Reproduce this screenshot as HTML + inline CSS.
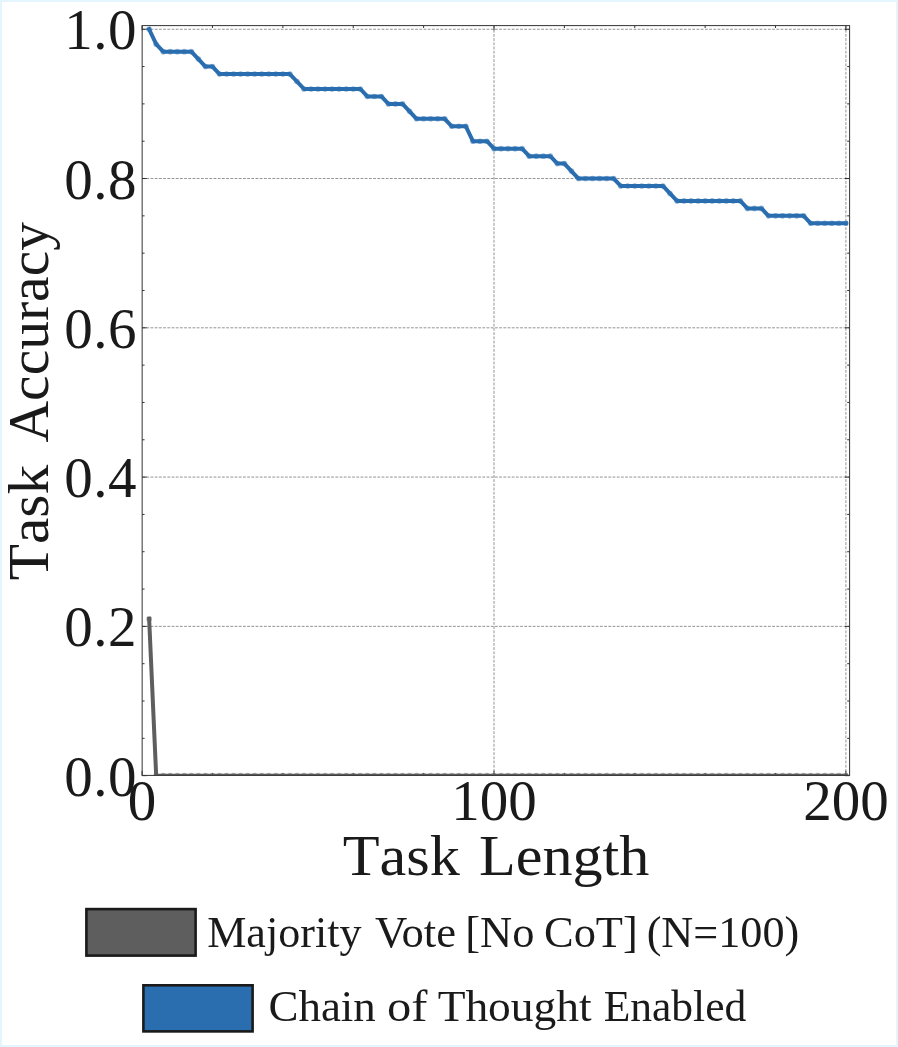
<!DOCTYPE html>
<html lang="en"><head><meta charset="utf-8"><title>Task Accuracy vs Task Length</title>
<style>
html,body{margin:0;padding:0;background:#fff;}
body{width:898px;height:1047px;overflow:hidden;position:relative;font-family:"Liberation Serif",serif;}
#frame{position:absolute;left:0;top:0;width:894px;height:1043px;border:2px solid #e5f5fd;background:#fff;}
svg{position:absolute;left:0;top:0;display:block;}
text{font-family:"Liberation Serif",serif;fill:#1a1a1a;}
.tick{font-size:57px;}
.axl{font-size:56px;font-kerning:none;}
.leg{font-size:44px;}
</style></head><body><div id="frame"></div>
<svg width="898" height="1047" viewBox="0 0 898 1047">
<defs><clipPath id="ax"><rect x="142.15" y="25.6" width="707.45" height="749.8"/></clipPath></defs>
<g stroke="#787878" stroke-width="0.8" stroke-dasharray="2.8 1.4" fill="none"><line x1="142.15" x2="849.6" y1="626.37" y2="626.37"/><line x1="142.15" x2="849.6" y1="477.09" y2="477.09"/><line x1="142.15" x2="849.6" y1="327.81" y2="327.81"/><line x1="142.15" x2="849.6" y1="178.53" y2="178.53"/><line x1="142.15" x2="849.6" y1="29.25" y2="29.25"/><line y1="25.6" y2="775.4" x1="494.00" x2="494.00"/><line y1="25.6" y2="775.4" x1="845.90" x2="845.90"/></g>
<g stroke="#1c1c1c" stroke-width="0.9" fill="none"><line x1="142.15" x2="146.75" y1="775.65" y2="775.65"/><line x1="849.6" x2="845.0" y1="775.65" y2="775.65"/><line x1="142.15" x2="144.55" y1="738.33" y2="738.33"/><line x1="849.6" x2="847.2" y1="738.33" y2="738.33"/><line x1="142.15" x2="144.55" y1="701.01" y2="701.01"/><line x1="849.6" x2="847.2" y1="701.01" y2="701.01"/><line x1="142.15" x2="144.55" y1="663.69" y2="663.69"/><line x1="849.6" x2="847.2" y1="663.69" y2="663.69"/><line x1="142.15" x2="146.75" y1="626.37" y2="626.37"/><line x1="849.6" x2="845.0" y1="626.37" y2="626.37"/><line x1="142.15" x2="144.55" y1="589.05" y2="589.05"/><line x1="849.6" x2="847.2" y1="589.05" y2="589.05"/><line x1="142.15" x2="144.55" y1="551.73" y2="551.73"/><line x1="849.6" x2="847.2" y1="551.73" y2="551.73"/><line x1="142.15" x2="144.55" y1="514.41" y2="514.41"/><line x1="849.6" x2="847.2" y1="514.41" y2="514.41"/><line x1="142.15" x2="146.75" y1="477.09" y2="477.09"/><line x1="849.6" x2="845.0" y1="477.09" y2="477.09"/><line x1="142.15" x2="144.55" y1="439.77" y2="439.77"/><line x1="849.6" x2="847.2" y1="439.77" y2="439.77"/><line x1="142.15" x2="144.55" y1="402.45" y2="402.45"/><line x1="849.6" x2="847.2" y1="402.45" y2="402.45"/><line x1="142.15" x2="144.55" y1="365.13" y2="365.13"/><line x1="849.6" x2="847.2" y1="365.13" y2="365.13"/><line x1="142.15" x2="146.75" y1="327.81" y2="327.81"/><line x1="849.6" x2="845.0" y1="327.81" y2="327.81"/><line x1="142.15" x2="144.55" y1="290.49" y2="290.49"/><line x1="849.6" x2="847.2" y1="290.49" y2="290.49"/><line x1="142.15" x2="144.55" y1="253.17" y2="253.17"/><line x1="849.6" x2="847.2" y1="253.17" y2="253.17"/><line x1="142.15" x2="144.55" y1="215.85" y2="215.85"/><line x1="849.6" x2="847.2" y1="215.85" y2="215.85"/><line x1="142.15" x2="146.75" y1="178.53" y2="178.53"/><line x1="849.6" x2="845.0" y1="178.53" y2="178.53"/><line x1="142.15" x2="144.55" y1="141.21" y2="141.21"/><line x1="849.6" x2="847.2" y1="141.21" y2="141.21"/><line x1="142.15" x2="144.55" y1="103.89" y2="103.89"/><line x1="849.6" x2="847.2" y1="103.89" y2="103.89"/><line x1="142.15" x2="144.55" y1="66.57" y2="66.57"/><line x1="849.6" x2="847.2" y1="66.57" y2="66.57"/><line x1="142.15" x2="146.75" y1="29.25" y2="29.25"/><line x1="849.6" x2="845.0" y1="29.25" y2="29.25"/><line x1="142.10" x2="142.10" y1="25.6" y2="30.200000000000003"/><line x1="142.10" x2="142.10" y1="775.4" y2="770.8"/><line x1="212.48" x2="212.48" y1="25.6" y2="28.0"/><line x1="212.48" x2="212.48" y1="775.4" y2="773.0"/><line x1="282.86" x2="282.86" y1="25.6" y2="28.0"/><line x1="282.86" x2="282.86" y1="775.4" y2="773.0"/><line x1="353.24" x2="353.24" y1="25.6" y2="28.0"/><line x1="353.24" x2="353.24" y1="775.4" y2="773.0"/><line x1="423.62" x2="423.62" y1="25.6" y2="28.0"/><line x1="423.62" x2="423.62" y1="775.4" y2="773.0"/><line x1="494.00" x2="494.00" y1="25.6" y2="30.200000000000003"/><line x1="494.00" x2="494.00" y1="775.4" y2="770.8"/><line x1="564.38" x2="564.38" y1="25.6" y2="28.0"/><line x1="564.38" x2="564.38" y1="775.4" y2="773.0"/><line x1="634.76" x2="634.76" y1="25.6" y2="28.0"/><line x1="634.76" x2="634.76" y1="775.4" y2="773.0"/><line x1="705.14" x2="705.14" y1="25.6" y2="28.0"/><line x1="705.14" x2="705.14" y1="775.4" y2="773.0"/><line x1="775.52" x2="775.52" y1="25.6" y2="28.0"/><line x1="775.52" x2="775.52" y1="775.4" y2="773.0"/><line x1="845.90" x2="845.90" y1="25.6" y2="30.200000000000003"/><line x1="845.90" x2="845.90" y1="775.4" y2="770.8"/></g>
<g clip-path="url(#ax)"><polyline points="149.14,618.91 156.18,775.65 163.21,775.65 170.25,775.65 177.29,775.65 184.33,775.65 191.37,775.65 198.40,775.65 205.44,775.65 212.48,775.65 219.52,775.65 226.56,775.65 233.59,775.65 240.63,775.65 247.67,775.65 254.71,775.65 261.75,775.65 268.78,775.65 275.82,775.65 282.86,775.65 289.90,775.65 296.94,775.65 303.97,775.65 311.01,775.65 318.05,775.65 325.09,775.65 332.13,775.65 339.16,775.65 346.20,775.65 353.24,775.65 360.28,775.65 367.32,775.65 374.35,775.65 381.39,775.65 388.43,775.65 395.47,775.65 402.51,775.65 409.54,775.65 416.58,775.65 423.62,775.65 430.66,775.65 437.70,775.65 444.73,775.65 451.77,775.65 458.81,775.65 465.85,775.65 472.89,775.65 479.92,775.65 486.96,775.65 494.00,775.65 501.04,775.65 508.08,775.65 515.11,775.65 522.15,775.65 529.19,775.65 536.23,775.65 543.27,775.65 550.30,775.65 557.34,775.65 564.38,775.65 571.42,775.65 578.46,775.65 585.49,775.65 592.53,775.65 599.57,775.65 606.61,775.65 613.65,775.65 620.68,775.65 627.72,775.65 634.76,775.65 641.80,775.65 648.84,775.65 655.87,775.65 662.91,775.65 669.95,775.65 676.99,775.65 684.03,775.65 691.06,775.65 698.10,775.65 705.14,775.65 712.18,775.65 719.22,775.65 726.25,775.65 733.29,775.65 740.33,775.65 747.37,775.65 754.41,775.65 761.44,775.65 768.48,775.65 775.52,775.65 782.56,775.65 789.60,775.65 796.63,775.65 803.67,775.65 810.71,775.65 817.75,775.65 824.79,775.65 831.82,775.65 838.86,775.65 845.90,775.65" fill="none" stroke="#5e5e5e" stroke-width="4.0" stroke-linejoin="round" stroke-linecap="square"/>
<g fill="#5e5e5e" fill-opacity="0.5"><circle cx="149.14" cy="618.91" r="2.8"/><circle cx="156.18" cy="775.65" r="2.8"/><circle cx="163.21" cy="775.65" r="2.8"/><circle cx="170.25" cy="775.65" r="2.8"/><circle cx="177.29" cy="775.65" r="2.8"/><circle cx="184.33" cy="775.65" r="2.8"/><circle cx="191.37" cy="775.65" r="2.8"/><circle cx="198.40" cy="775.65" r="2.8"/><circle cx="205.44" cy="775.65" r="2.8"/><circle cx="212.48" cy="775.65" r="2.8"/><circle cx="219.52" cy="775.65" r="2.8"/><circle cx="226.56" cy="775.65" r="2.8"/><circle cx="233.59" cy="775.65" r="2.8"/><circle cx="240.63" cy="775.65" r="2.8"/><circle cx="247.67" cy="775.65" r="2.8"/><circle cx="254.71" cy="775.65" r="2.8"/><circle cx="261.75" cy="775.65" r="2.8"/><circle cx="268.78" cy="775.65" r="2.8"/><circle cx="275.82" cy="775.65" r="2.8"/><circle cx="282.86" cy="775.65" r="2.8"/><circle cx="289.90" cy="775.65" r="2.8"/><circle cx="296.94" cy="775.65" r="2.8"/><circle cx="303.97" cy="775.65" r="2.8"/><circle cx="311.01" cy="775.65" r="2.8"/><circle cx="318.05" cy="775.65" r="2.8"/><circle cx="325.09" cy="775.65" r="2.8"/><circle cx="332.13" cy="775.65" r="2.8"/><circle cx="339.16" cy="775.65" r="2.8"/><circle cx="346.20" cy="775.65" r="2.8"/><circle cx="353.24" cy="775.65" r="2.8"/><circle cx="360.28" cy="775.65" r="2.8"/><circle cx="367.32" cy="775.65" r="2.8"/><circle cx="374.35" cy="775.65" r="2.8"/><circle cx="381.39" cy="775.65" r="2.8"/><circle cx="388.43" cy="775.65" r="2.8"/><circle cx="395.47" cy="775.65" r="2.8"/><circle cx="402.51" cy="775.65" r="2.8"/><circle cx="409.54" cy="775.65" r="2.8"/><circle cx="416.58" cy="775.65" r="2.8"/><circle cx="423.62" cy="775.65" r="2.8"/><circle cx="430.66" cy="775.65" r="2.8"/><circle cx="437.70" cy="775.65" r="2.8"/><circle cx="444.73" cy="775.65" r="2.8"/><circle cx="451.77" cy="775.65" r="2.8"/><circle cx="458.81" cy="775.65" r="2.8"/><circle cx="465.85" cy="775.65" r="2.8"/><circle cx="472.89" cy="775.65" r="2.8"/><circle cx="479.92" cy="775.65" r="2.8"/><circle cx="486.96" cy="775.65" r="2.8"/><circle cx="494.00" cy="775.65" r="2.8"/><circle cx="501.04" cy="775.65" r="2.8"/><circle cx="508.08" cy="775.65" r="2.8"/><circle cx="515.11" cy="775.65" r="2.8"/><circle cx="522.15" cy="775.65" r="2.8"/><circle cx="529.19" cy="775.65" r="2.8"/><circle cx="536.23" cy="775.65" r="2.8"/><circle cx="543.27" cy="775.65" r="2.8"/><circle cx="550.30" cy="775.65" r="2.8"/><circle cx="557.34" cy="775.65" r="2.8"/><circle cx="564.38" cy="775.65" r="2.8"/><circle cx="571.42" cy="775.65" r="2.8"/><circle cx="578.46" cy="775.65" r="2.8"/><circle cx="585.49" cy="775.65" r="2.8"/><circle cx="592.53" cy="775.65" r="2.8"/><circle cx="599.57" cy="775.65" r="2.8"/><circle cx="606.61" cy="775.65" r="2.8"/><circle cx="613.65" cy="775.65" r="2.8"/><circle cx="620.68" cy="775.65" r="2.8"/><circle cx="627.72" cy="775.65" r="2.8"/><circle cx="634.76" cy="775.65" r="2.8"/><circle cx="641.80" cy="775.65" r="2.8"/><circle cx="648.84" cy="775.65" r="2.8"/><circle cx="655.87" cy="775.65" r="2.8"/><circle cx="662.91" cy="775.65" r="2.8"/><circle cx="669.95" cy="775.65" r="2.8"/><circle cx="676.99" cy="775.65" r="2.8"/><circle cx="684.03" cy="775.65" r="2.8"/><circle cx="691.06" cy="775.65" r="2.8"/><circle cx="698.10" cy="775.65" r="2.8"/><circle cx="705.14" cy="775.65" r="2.8"/><circle cx="712.18" cy="775.65" r="2.8"/><circle cx="719.22" cy="775.65" r="2.8"/><circle cx="726.25" cy="775.65" r="2.8"/><circle cx="733.29" cy="775.65" r="2.8"/><circle cx="740.33" cy="775.65" r="2.8"/><circle cx="747.37" cy="775.65" r="2.8"/><circle cx="754.41" cy="775.65" r="2.8"/><circle cx="761.44" cy="775.65" r="2.8"/><circle cx="768.48" cy="775.65" r="2.8"/><circle cx="775.52" cy="775.65" r="2.8"/><circle cx="782.56" cy="775.65" r="2.8"/><circle cx="789.60" cy="775.65" r="2.8"/><circle cx="796.63" cy="775.65" r="2.8"/><circle cx="803.67" cy="775.65" r="2.8"/><circle cx="810.71" cy="775.65" r="2.8"/><circle cx="817.75" cy="775.65" r="2.8"/><circle cx="824.79" cy="775.65" r="2.8"/><circle cx="831.82" cy="775.65" r="2.8"/><circle cx="838.86" cy="775.65" r="2.8"/><circle cx="845.90" cy="775.65" r="2.8"/></g>
<polyline points="149.14,29.25 156.18,44.18 163.21,51.64 170.25,51.64 177.29,51.64 184.33,51.64 191.37,51.64 198.40,59.11 205.44,66.57 212.48,66.57 219.52,74.03 226.56,74.03 233.59,74.03 240.63,74.03 247.67,74.03 254.71,74.03 261.75,74.03 268.78,74.03 275.82,74.03 282.86,74.03 289.90,74.03 296.94,81.50 303.97,88.96 311.01,88.96 318.05,88.96 325.09,88.96 332.13,88.96 339.16,88.96 346.20,88.96 353.24,88.96 360.28,88.96 367.32,96.43 374.35,96.43 381.39,96.43 388.43,103.89 395.47,103.89 402.51,103.89 409.54,111.35 416.58,118.82 423.62,118.82 430.66,118.82 437.70,118.82 444.73,118.82 451.77,126.28 458.81,126.28 465.85,126.28 472.89,141.21 479.92,141.21 486.96,141.21 494.00,148.67 501.04,148.67 508.08,148.67 515.11,148.67 522.15,148.67 529.19,156.14 536.23,156.14 543.27,156.14 550.30,156.14 557.34,163.60 564.38,163.60 571.42,171.07 578.46,178.53 585.49,178.53 592.53,178.53 599.57,178.53 606.61,178.53 613.65,178.53 620.68,185.99 627.72,185.99 634.76,185.99 641.80,185.99 648.84,185.99 655.87,185.99 662.91,185.99 669.95,193.46 676.99,200.92 684.03,200.92 691.06,200.92 698.10,200.92 705.14,200.92 712.18,200.92 719.22,200.92 726.25,200.92 733.29,200.92 740.33,200.92 747.37,208.39 754.41,208.39 761.44,208.39 768.48,215.85 775.52,215.85 782.56,215.85 789.60,215.85 796.63,215.85 803.67,215.85 810.71,223.31 817.75,223.31 824.79,223.31 831.82,223.31 838.86,223.31 845.90,223.31" fill="none" stroke="#2a6eaf" stroke-width="4.0" stroke-linejoin="round" stroke-linecap="square"/>
<g fill="#2a6eaf" fill-opacity="0.5"><circle cx="149.14" cy="29.25" r="2.8"/><circle cx="156.18" cy="44.18" r="2.8"/><circle cx="163.21" cy="51.64" r="2.8"/><circle cx="170.25" cy="51.64" r="2.8"/><circle cx="177.29" cy="51.64" r="2.8"/><circle cx="184.33" cy="51.64" r="2.8"/><circle cx="191.37" cy="51.64" r="2.8"/><circle cx="198.40" cy="59.11" r="2.8"/><circle cx="205.44" cy="66.57" r="2.8"/><circle cx="212.48" cy="66.57" r="2.8"/><circle cx="219.52" cy="74.03" r="2.8"/><circle cx="226.56" cy="74.03" r="2.8"/><circle cx="233.59" cy="74.03" r="2.8"/><circle cx="240.63" cy="74.03" r="2.8"/><circle cx="247.67" cy="74.03" r="2.8"/><circle cx="254.71" cy="74.03" r="2.8"/><circle cx="261.75" cy="74.03" r="2.8"/><circle cx="268.78" cy="74.03" r="2.8"/><circle cx="275.82" cy="74.03" r="2.8"/><circle cx="282.86" cy="74.03" r="2.8"/><circle cx="289.90" cy="74.03" r="2.8"/><circle cx="296.94" cy="81.50" r="2.8"/><circle cx="303.97" cy="88.96" r="2.8"/><circle cx="311.01" cy="88.96" r="2.8"/><circle cx="318.05" cy="88.96" r="2.8"/><circle cx="325.09" cy="88.96" r="2.8"/><circle cx="332.13" cy="88.96" r="2.8"/><circle cx="339.16" cy="88.96" r="2.8"/><circle cx="346.20" cy="88.96" r="2.8"/><circle cx="353.24" cy="88.96" r="2.8"/><circle cx="360.28" cy="88.96" r="2.8"/><circle cx="367.32" cy="96.43" r="2.8"/><circle cx="374.35" cy="96.43" r="2.8"/><circle cx="381.39" cy="96.43" r="2.8"/><circle cx="388.43" cy="103.89" r="2.8"/><circle cx="395.47" cy="103.89" r="2.8"/><circle cx="402.51" cy="103.89" r="2.8"/><circle cx="409.54" cy="111.35" r="2.8"/><circle cx="416.58" cy="118.82" r="2.8"/><circle cx="423.62" cy="118.82" r="2.8"/><circle cx="430.66" cy="118.82" r="2.8"/><circle cx="437.70" cy="118.82" r="2.8"/><circle cx="444.73" cy="118.82" r="2.8"/><circle cx="451.77" cy="126.28" r="2.8"/><circle cx="458.81" cy="126.28" r="2.8"/><circle cx="465.85" cy="126.28" r="2.8"/><circle cx="472.89" cy="141.21" r="2.8"/><circle cx="479.92" cy="141.21" r="2.8"/><circle cx="486.96" cy="141.21" r="2.8"/><circle cx="494.00" cy="148.67" r="2.8"/><circle cx="501.04" cy="148.67" r="2.8"/><circle cx="508.08" cy="148.67" r="2.8"/><circle cx="515.11" cy="148.67" r="2.8"/><circle cx="522.15" cy="148.67" r="2.8"/><circle cx="529.19" cy="156.14" r="2.8"/><circle cx="536.23" cy="156.14" r="2.8"/><circle cx="543.27" cy="156.14" r="2.8"/><circle cx="550.30" cy="156.14" r="2.8"/><circle cx="557.34" cy="163.60" r="2.8"/><circle cx="564.38" cy="163.60" r="2.8"/><circle cx="571.42" cy="171.07" r="2.8"/><circle cx="578.46" cy="178.53" r="2.8"/><circle cx="585.49" cy="178.53" r="2.8"/><circle cx="592.53" cy="178.53" r="2.8"/><circle cx="599.57" cy="178.53" r="2.8"/><circle cx="606.61" cy="178.53" r="2.8"/><circle cx="613.65" cy="178.53" r="2.8"/><circle cx="620.68" cy="185.99" r="2.8"/><circle cx="627.72" cy="185.99" r="2.8"/><circle cx="634.76" cy="185.99" r="2.8"/><circle cx="641.80" cy="185.99" r="2.8"/><circle cx="648.84" cy="185.99" r="2.8"/><circle cx="655.87" cy="185.99" r="2.8"/><circle cx="662.91" cy="185.99" r="2.8"/><circle cx="669.95" cy="193.46" r="2.8"/><circle cx="676.99" cy="200.92" r="2.8"/><circle cx="684.03" cy="200.92" r="2.8"/><circle cx="691.06" cy="200.92" r="2.8"/><circle cx="698.10" cy="200.92" r="2.8"/><circle cx="705.14" cy="200.92" r="2.8"/><circle cx="712.18" cy="200.92" r="2.8"/><circle cx="719.22" cy="200.92" r="2.8"/><circle cx="726.25" cy="200.92" r="2.8"/><circle cx="733.29" cy="200.92" r="2.8"/><circle cx="740.33" cy="200.92" r="2.8"/><circle cx="747.37" cy="208.39" r="2.8"/><circle cx="754.41" cy="208.39" r="2.8"/><circle cx="761.44" cy="208.39" r="2.8"/><circle cx="768.48" cy="215.85" r="2.8"/><circle cx="775.52" cy="215.85" r="2.8"/><circle cx="782.56" cy="215.85" r="2.8"/><circle cx="789.60" cy="215.85" r="2.8"/><circle cx="796.63" cy="215.85" r="2.8"/><circle cx="803.67" cy="215.85" r="2.8"/><circle cx="810.71" cy="223.31" r="2.8"/><circle cx="817.75" cy="223.31" r="2.8"/><circle cx="824.79" cy="223.31" r="2.8"/><circle cx="831.82" cy="223.31" r="2.8"/><circle cx="838.86" cy="223.31" r="2.8"/><circle cx="845.90" cy="223.31" r="2.8"/></g>
</g>
<rect x="142.15" y="25.6" width="707.45" height="749.8" fill="none" stroke="#333333" stroke-width="1.0"/>
<text class="tick" x="136.4" y="795.75" text-anchor="end" textLength="72.2">0.0</text><text class="tick" x="136.4" y="646.47" text-anchor="end" textLength="72.2">0.2</text><text class="tick" x="136.4" y="497.19" text-anchor="end" textLength="72.2">0.4</text><text class="tick" x="136.4" y="347.91" text-anchor="end" textLength="72.2">0.6</text><text class="tick" x="136.4" y="198.63" text-anchor="end" textLength="72.2">0.8</text><text class="tick" x="136.4" y="49.35" text-anchor="end" textLength="72.2">1.0</text><text class="tick" x="142.10" y="820.2" text-anchor="middle">0</text><text class="tick" x="494.00" y="820.2" text-anchor="middle">100</text><text class="tick" x="845.90" y="820.2" text-anchor="middle">200</text>
<text class="axl" y="875.4"><tspan x="342.80" textLength="117.15" lengthAdjust="spacingAndGlyphs">Task</tspan> <tspan x="479.00" textLength="170.41" lengthAdjust="spacingAndGlyphs">Length</tspan></text>
<text class="axl" transform="translate(47.8,580.35) rotate(-90)" y="0"><tspan x="0.00" textLength="115.51" lengthAdjust="spacingAndGlyphs">Task</tspan> <tspan x="137.90" textLength="220.40" lengthAdjust="spacingAndGlyphs">Accuracy</tspan></text>
<rect x="86.4" y="909.1" width="109.2" height="46.5" fill="#5e5e5e" stroke="#1a1a1a" stroke-width="2.6"/><text class="leg" y="946.8"><tspan x="207.15" textLength="154.30" lengthAdjust="spacingAndGlyphs">Majority</tspan> <tspan x="375.00" textLength="81.05" lengthAdjust="spacingAndGlyphs">Vote</tspan> <tspan x="465.25" textLength="69.15" lengthAdjust="spacingAndGlyphs">[No</tspan> <tspan x="544.00" textLength="93.80" lengthAdjust="spacingAndGlyphs">CoT]</tspan> <tspan x="646.65" textLength="152.70" lengthAdjust="spacingAndGlyphs">(N=100)</tspan></text>
<rect x="143.4" y="985.3" width="109.2" height="46.1" fill="#2a6eaf" stroke="#1a1a1a" stroke-width="2.6"/><text class="leg" y="1020.7"><tspan x="268.45" textLength="107.35" lengthAdjust="spacingAndGlyphs">Chain</tspan> <tspan x="386.95" textLength="40.40" lengthAdjust="spacingAndGlyphs">of</tspan> <tspan x="437.65" textLength="154.00" lengthAdjust="spacingAndGlyphs">Thought</tspan> <tspan x="603.65" textLength="142.70" lengthAdjust="spacingAndGlyphs">Enabled</tspan></text>
</svg></body></html>
